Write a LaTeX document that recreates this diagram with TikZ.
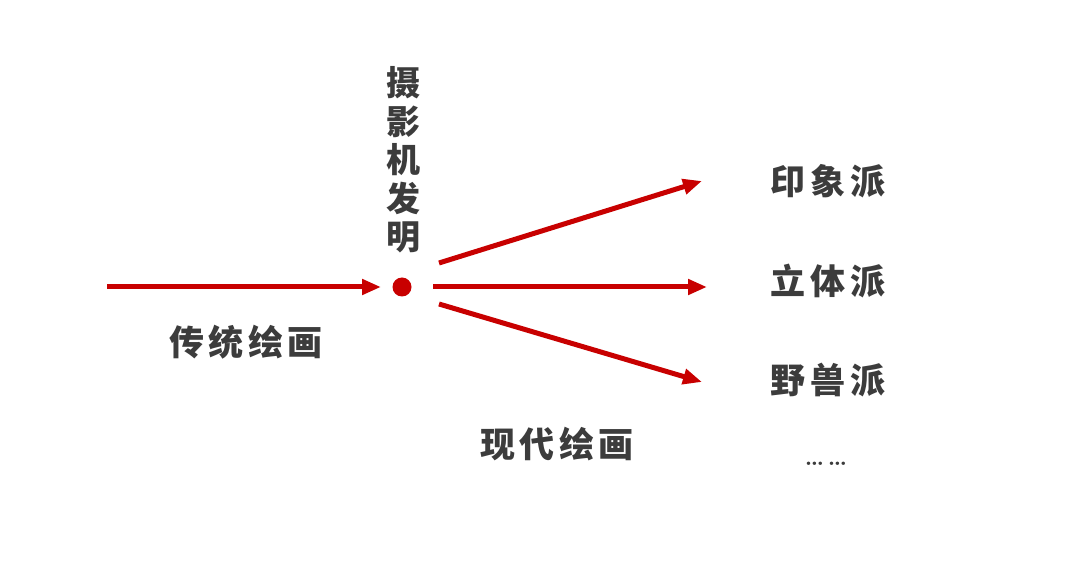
\documentclass[tikz,border=0pt]{standalone}
\usepackage{fontspec}
\newfontfamily\cjk{Noto Sans CJK SC}[LetterSpace=13]
\usetikzlibrary{arrows.meta}
\definecolor{myred}{HTML}{C80000}
\definecolor{mytext}{HTML}{3C3C3C}
\tikzset{
  redarrow/.style={draw=myred, line width=5pt, -{Triangle[length=19pt,width=15pt]}, shorten >=0pt},
  label/.style={text=mytext, font=\cjk\bfseries\fontsize{35}{38.5}\selectfont, inner sep=0pt},
}
\begin{document}
\begin{tikzpicture}[x=1pt,y=-1pt]
\useasboundingbox[fill=white] (0,0) rectangle (1080,577);
\coordinate (s0) at (107,287);
\coordinate (e0) at (381,287);
\fill[myred] (402,287) circle (9.5) node (dot) {};
\coordinate (s1) at (439,263);
\coordinate (e1) at (702,181);
\coordinate (s2) at (433,287);
\coordinate (e2) at (707,287);
\coordinate (s3) at (439,304);
\coordinate (e3) at (702,382);
\draw[redarrow] (s0) -- (e0);
\draw[redarrow] (s1) -- (e1);
\draw[redarrow] (s2) -- (e2);
\draw[redarrow] (s3) -- (e3);
\node[label, align=center, font=\cjk\bfseries\fontsize{34}{38.5}\selectfont] (cam) at (403,160) {摄\\影\\机\\发\\明};
\node[label] (yx) at (828,181) {印象派};
\node[label] (lt) at (828,281) {立体派};
\node[label] (ys) at (828,380) {野兽派};
\node[label] (ct) at (246,342) {传统绘画};
\node[label] (xd) at (557,444) {现代绘画};
\node[text=mytext, font=\bfseries\fontsize{24}{28}\selectfont, inner sep=0pt] (dots) at (826,464) {…\,…};
\end{tikzpicture}
\end{document}
